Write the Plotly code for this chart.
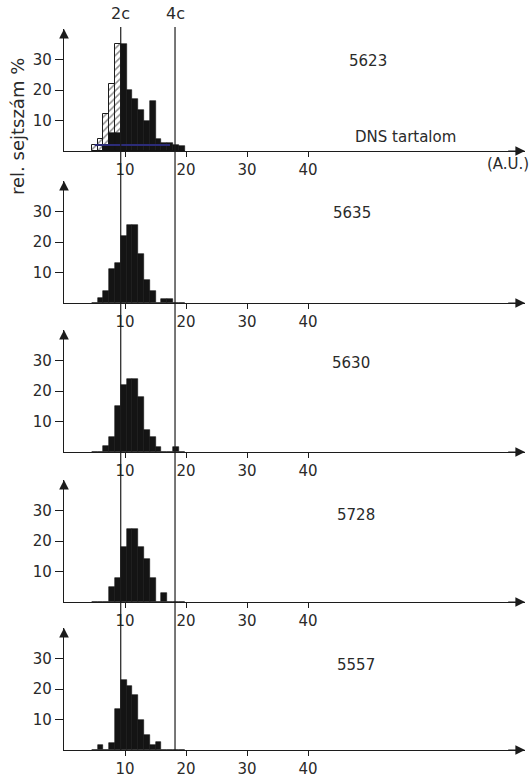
import plotly.graph_objects as go

W, H = 530, 778

# ---------------- data ----------------
# DNA content bin centres (A.U.), bin width 0.95 A.U.
bin_centers = [5.03, 5.98, 6.93, 7.88, 8.83, 9.78, 10.73, 11.68,
               12.63, 13.58, 14.53, 15.48, 16.43, 17.38, 18.33, 19.28]
BIN_WIDTH = 0.95

sample_ids = ["5623", "5635", "5630", "5728", "5557"]

# relative cell number (%) per bin
p5623_hatched = [2, 4, 12, 22, 35, 0, 0, 0, 0, 0, 0, 0, 0, 0, 0, 0]
p5623_black = [0, 0, 2, 6, 6, 35, 20, 17, 13.5, 10, 16.5, 4, 2.5, 2.5, 2, 1.5]
p5623_blue = [2, 2, 2, 2, 2, 2, 2, 2, 2, 2, 2, 2, 2, 2, None, None]
p5635 = [0, 1.7, 4, 11, 13, 22, 25.5, 25.5, 16, 7.5, 4, 0, 1.4, 1.4, 0, 0]
p5630 = [0, 0, 2, 5, 15, 22, 24, 24, 18, 7.3, 4.8, 1.6, 0, 0, 1.7, 0]
p5728 = [0, 0, 0, 5, 8, 18, 24, 24, 18, 14, 8, 0, 3, 0, 0, 0]
p5557 = [0, 1.6, 0, 2.2, 13.3, 23, 21, 18, 10, 5, 1.6, 2.7, 0, 0, 0, 0]

black_series = [p5623_black, p5635, p5630, p5728, p5557]

two_c = 9.3    # 2c DNA content
four_c = 18.2  # 4c DNA content

x_ticks = [10, 20, 30, 40]
y_ticks = [10, 20, 30]

# ---------------- layout geometry (pixels) ----------------
X0_PX, X1_PX = 64, 525
PX_PER_UNIT_X = 6.1
X_MAX = (X1_PX - X0_PX) / PX_PER_UNIT_X
baselines = [151, 303, 452, 602, 750]
PANEL_H = 122
Y_MAX = 40
LINE_TOP_PX = 27

INK = "#1c1c1c"
TXT = "#2a2a2a"
FONT = "DejaVu Sans"

def py(p):
    return 1 - p / H

def px(p):
    return p / W

fig = go.Figure()
layout = dict(
    width=W, height=H,
    margin=dict(l=0, r=0, t=0, b=0),
    paper_bgcolor="white", plot_bgcolor="white",
    showlegend=False,
    barmode="overlay", bargap=0,
    font=dict(family=FONT, size=15, color=TXT),
)

annotations = []
shapes = []

for i, base in enumerate(baselines):
    n = "" if i == 0 else str(i + 1)
    xa, ya = "x" + n, "y" + n
    layout["xaxis" + n] = dict(
        domain=[px(X0_PX), px(X1_PX)], range=[0, X_MAX], anchor=ya,
        showline=True, linecolor=INK, linewidth=1.2,
        showgrid=False, zeroline=False,
        tickvals=x_ticks, ticks="outside", ticklen=5, tickcolor=INK,
        tickwidth=1, tickfont=dict(family=FONT, size=15, color=TXT),
    )
    layout["yaxis" + n] = dict(
        domain=[py(base), py(base - PANEL_H)], range=[0, Y_MAX], anchor=xa,
        showline=True, linecolor=INK, linewidth=1.2,
        showgrid=False, zeroline=False,
        tickvals=y_ticks, ticks="outside", ticklen=8, tickcolor=INK,
        tickwidth=1, tickfont=dict(family=FONT, size=15, color=TXT),
    )
    if i == 0:
        fig.add_trace(go.Bar(
            x=bin_centers, y=p5623_hatched, width=BIN_WIDTH,
            xaxis=xa, yaxis=ya,
            marker=dict(color="white", line=dict(color=INK, width=1),
                        pattern=dict(shape="/", fgcolor=INK, bgcolor="white",
                                     size=5, solidity=0.3)),
        ))
    fig.add_trace(go.Bar(
        x=bin_centers, y=black_series[i], width=BIN_WIDTH,
        xaxis=xa, yaxis=ya,
        marker=dict(color="#141414", line=dict(color="#141414", width=0.6)),
    ))
    if i == 0:
        fig.add_trace(go.Scatter(
            x=bin_centers, y=p5623_blue, mode="lines", line_shape="hvh",
            line=dict(color="#2c2c78", width=2), xaxis=xa, yaxis=ya,
        ))
    # arrow heads
    annotations.append(dict(x=X_MAX, y=0, ax=X_MAX - 3, ay=0, xref=xa, yref=ya,
                            axref=xa, ayref=ya, text="", showarrow=True,
                            arrowhead=2, arrowsize=1.6, arrowwidth=1.2,
                            arrowcolor=INK, standoff=0))
    annotations.append(dict(x=0, y=Y_MAX, ax=0, ay=Y_MAX - 3, xref=xa, yref=ya,
                            axref=xa, ayref=ya, text="", showarrow=True,
                            arrowhead=2, arrowsize=1.6, arrowwidth=1.2,
                            arrowcolor=INK, standoff=0))

# 2c / 4c reference lines across all panels
for xv, lab in [(two_c, "2c"), (four_c, "4c")]:
    shapes.append(dict(type="line", xref="x", yref="paper",
                       x0=xv, x1=xv, y0=py(baselines[-1]), y1=py(LINE_TOP_PX),
                       line=dict(color=INK, width=1.2)))
    annotations.append(dict(x=xv, y=py(14), xref="x", yref="paper",
                            xanchor="center", yanchor="middle",
                            text=lab, showarrow=False,
                            font=dict(family=FONT, size=16, color=TXT)))

def text_at(x, y, s, size=15, angle=0):
    annotations.append(dict(x=px(x), y=py(y), xref="paper", yref="paper",
                            xanchor="center", yanchor="middle",
                            text=s, textangle=angle, showarrow=False,
                            font=dict(family=FONT, size=size, color=TXT)))

# sample labels
label_pos = [(368, 61), (352, 213), (351, 363), (356, 515), (356, 665)]
for sid, (lx, ly) in zip(sample_ids, label_pos):
    text_at(lx, ly, sid)

text_at(405, 137, "DNS tartalom")
text_at(508, 164, "(A.U.)")
text_at(17, 127, "rel. sejtszám %", size=18, angle=-90)

layout["annotations"] = annotations
layout["shapes"] = shapes
fig.update_layout(**layout)
fig.write_html("out.html")
